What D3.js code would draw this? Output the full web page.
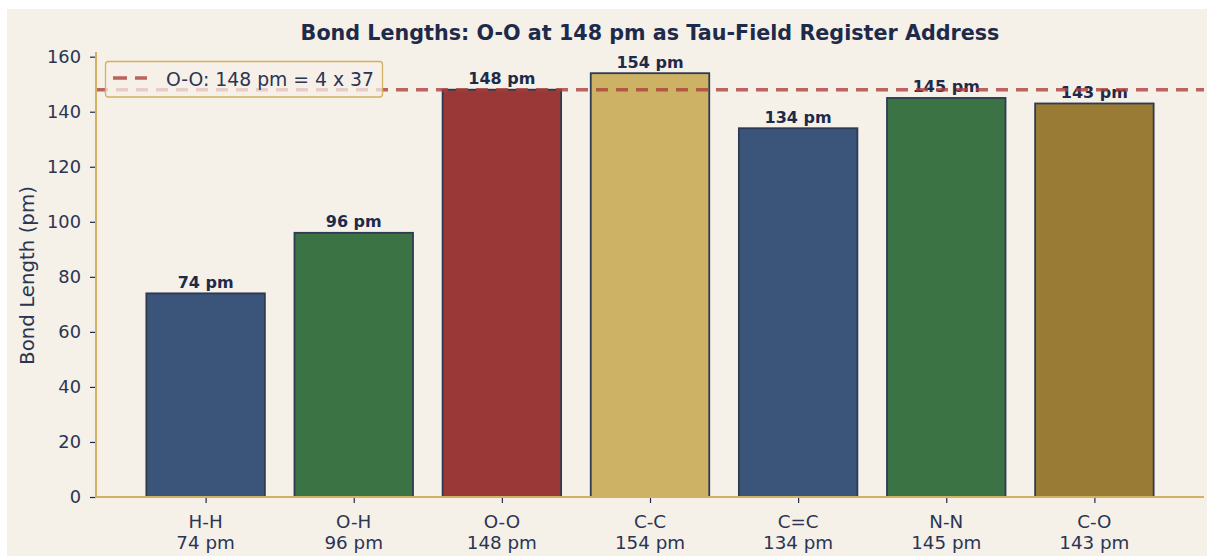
<!DOCTYPE html>
<html><head><meta charset="utf-8">
<script src="https://cdn.jsdelivr.net/npm/d3@7"></script>
<style>body{margin:0;background:#fff;}svg{display:block;}</style>
</head><body>
<script>
const bonds = ["H-H","O-H","O-O","C-C","C=C","N-N","C-O"];
const lengths = [74,96,148,154,134,145,143];
const colors = ["#3b5479","#3b7345","#9a3838","#cdb266","#3b5479","#3b7345","#9a7b35"];
const yTicks = [0,20,40,60,80,100,120,140,160];
const refValue = 148;
const legendText = "O-O: 148 pm = 4 x 37";
const titleText = "Bond Lengths: O-O at 148 pm as Tau-Field Register Address";

const W=1207,H=556;
const svg=d3.select("body").append("svg").attr("width",W).attr("height",H);
svg.append("rect").attr("x",7).attr("y",9).attr("width",W-7).attr("height",H-9).attr("fill","#f5f0e8");

const pL=96,pR=1204,pT=52,pB=497;
const x=d3.scaleLinear().domain([-0.74,6.74]).range([pL,pR]);
const y=d3.scaleLinear().domain([0,161.7]).range([pB,pT]);
const ink="#1e2a4a", tk="#2a3552", font="DejaVu Sans, sans-serif";
const refColor="#ab403c";

// bars
svg.selectAll("rect.bar").data(lengths).enter().append("rect")
  .attr("x",(d,i)=>x(i-0.4)).attr("width",x(0.8)-x(0))
  .attr("y",d=>y(d)).attr("height",d=>y(0)-y(d))
  .attr("fill",(d,i)=>colors[i]).attr("stroke","#2e3a52").attr("stroke-width",1.8);

// value labels
svg.selectAll("text.val").data(lengths).enter().append("text")
  .attr("x",(d,i)=>x(i)).attr("y",d=>y(d)-5.5).attr("text-anchor","middle")
  .attr("font-family",font).attr("font-weight","bold").attr("font-size",16).attr("fill",ink)
  .text(d=>d+" pm");

// reference line
svg.append("line").attr("x1",pL).attr("x2",pR).attr("y1",y(refValue)).attr("y2",y(refValue))
  .attr("stroke",refColor).attr("stroke-opacity",0.8).attr("stroke-width",3.5).attr("stroke-dasharray","12,8");

// axes
const gy=svg.append("g").attr("transform",`translate(${pL},0)`)
  .call(d3.axisLeft(y).tickValues(yTicks).tickSize(6).tickPadding(9));
gy.select(".domain").remove();
gy.selectAll(".tick line").attr("stroke",ink).attr("stroke-width",1.2);
gy.selectAll(".tick text").attr("font-family",font).attr("font-size",17.8).attr("fill",tk);

const gx=svg.append("g").attr("transform",`translate(0,${pB})`)
  .call(d3.axisBottom(x).tickValues(d3.range(bonds.length)).tickSize(6).tickFormat(""));
gx.select(".domain").remove();
gx.selectAll(".tick line").attr("stroke",ink).attr("stroke-width",1.2);
bonds.forEach((b,i)=>{
  const t=svg.append("text").attr("x",x(i)).attr("text-anchor","middle")
    .attr("font-family",font).attr("font-size",18.3).attr("fill",tk);
  t.append("tspan").attr("x",x(i)).attr("y",528).text(b);
  t.append("tspan").attr("x",x(i)).attr("y",549).text(lengths[i]+" pm");
});

// spines
svg.append("line").attr("x1",pL).attr("x2",pL).attr("y1",pT).attr("y2",pB+1).attr("stroke","#d4b062").attr("stroke-width",2);
svg.append("line").attr("x1",pL-1).attr("x2",pR).attr("y1",pB).attr("y2",pB).attr("stroke","#d4b062").attr("stroke-width",2);

// y label
svg.append("text").attr("transform",`translate(34,${(pT+pB)/2+1}) rotate(-90)`).attr("text-anchor","middle")
  .attr("font-family",font).attr("font-size",19.8).attr("fill",tk).text("Bond Length (pm)");

// title
svg.append("text").attr("x",(pL+pR)/2).attr("y",40).attr("text-anchor","middle")
  .attr("font-family",font).attr("font-weight","bold").attr("font-size",20.7).attr("fill",ink).text(titleText);

// legend
svg.append("rect").attr("x",105.5).attr("y",61.5).attr("width",277).attr("height",35.5).attr("rx",3)
  .attr("fill","#f5f0e8").attr("fill-opacity",0.75).attr("stroke","#d4b062").attr("stroke-width",1.3);
svg.append("line").attr("x1",113).attr("x2",147).attr("y1",78).attr("y2",78)
  .attr("stroke",refColor).attr("stroke-opacity",0.8).attr("stroke-width",3.5).attr("stroke-dasharray","14,8");
svg.append("text").attr("x",166).attr("y",86).attr("font-family",font).attr("font-size",18.8).attr("fill",tk).text(legendText);
</script>
</body></html>
